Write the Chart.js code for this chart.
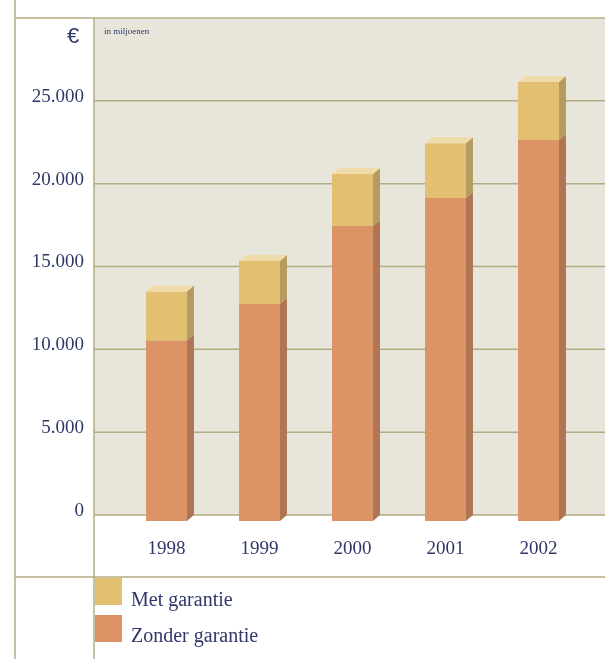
<!DOCTYPE html>
<html>
<head>
<meta charset="utf-8">
<script src="https://cdn.jsdelivr.net/npm/chart.js@4"></script>
<style>
body { margin: 0; background: #fff; }
#wrap { position: relative; width: 605px; height: 659px; }
.lbl { position: absolute; font-family: "Liberation Serif", serif; color: #2f3869; line-height: 1; white-space: nowrap; }
.box { position: absolute; width: 27px; height: 27px; }
</style>
</head>
<body>
<div id="wrap">
  <canvas id="myChart"></canvas>
  <span class="lbl" style="left:67px;top:25px;font-size:22px;font-family:'Liberation Sans',sans-serif">€</span>
  <span class="lbl" style="left:104px;top:27px;font-size:9px">in miljoenen</span>
  <div id="legend"></div>
</div>
<script>
var years = ["1998", "1999", "2000", "2001", "2002"];
var zonderGarantie = [10900, 13100, 17800, 19500, 23000];
var metGarantie = [2950, 2600, 3150, 3300, 3500];
var yTicks = [0, 5000, 10000, 15000, 20000, 25000];

var zonderColor = "#dc9366";
var metColor = "#e3bf72";
var sideColors = ["#b07552", "#b59b60"];
var topColor = "#f0dcab";
var lineColor = "#b5ab82";
var textColor = "#2f3869";
var depthX = 7, depthY = 6;

function fmt(v) {
  return String(v).replace(/\B(?=(\d{3})+(?!\d))/g, ".");
}

function hline(ctx, x1, x2, y) {
  ctx.beginPath(); ctx.moveTo(x1, y); ctx.lineTo(x2, y); ctx.stroke();
}
function vline(ctx, x, y1, y2) {
  ctx.beginPath(); ctx.moveTo(x, y1); ctx.lineTo(x, y2); ctx.stroke();
}
function poly(ctx, pts, color) {
  ctx.fillStyle = color;
  ctx.beginPath();
  ctx.moveTo(pts[0][0], pts[0][1]);
  for (var i = 1; i < pts.length; i++) ctx.lineTo(pts[i][0], pts[i][1]);
  ctx.closePath();
  ctx.fill();
}

var box3d = {
  id: "box3d",
  beforeDraw: function(chart) {
    var ctx = chart.ctx, y = chart.scales.y;
    var top = y.getPixelForValue(30000), zero = y.getPixelForValue(0);
    ctx.save();
    ctx.fillStyle = "#e8e5da";
    ctx.fillRect(94, top, 605 - 94, zero - top);
    ctx.strokeStyle = lineColor;
    ctx.lineWidth = 1.5;
    yTicks.forEach(function(v) {
      hline(ctx, 94, 605, y.getPixelForValue(v));
    });
    hline(ctx, 15, 605, top);
    hline(ctx, 15, 605, 577);
    vline(ctx, 15, 0, 659);
    vline(ctx, 94, top, 659);
    ctx.restore();
  },
  beforeDatasetsDraw: function(chart) {
    chart.ctx.save();
    chart.ctx.translate(-depthX, depthY);
  },
  afterDatasetsDraw: function(chart) {
    var ctx = chart.ctx;
    ctx.restore();
    ctx.save();
    var last = chart.data.datasets.length - 1;
    chart.data.datasets.forEach(function(ds, di) {
      chart.getDatasetMeta(di).data.forEach(function(bar) {
        var p = bar.getProps(["x", "y", "base", "width"], true);
        var r = p.x + p.width / 2, l = p.x - p.width / 2;
        poly(ctx, [[r - depthX, p.y + depthY], [r, p.y], [r, p.base], [r - depthX, p.base + depthY]], sideColors[di]);
        if (di === last) {
          poly(ctx, [[l - depthX, p.y + depthY], [l, p.y], [r, p.y], [r - depthX, p.y + depthY]], topColor);
        }
      });
    });
    ctx.restore();
  }
};

var chart = new Chart("myChart", {
  type: "bar",
  data: {
    labels: years,
    datasets: [{
      label: "Zonder garantie",
      data: zonderGarantie,
      backgroundColor: zonderColor,
      barPercentage: 0.44,
      categoryPercentage: 1,
      clip: false
    }, {
      label: "Met garantie",
      data: metGarantie,
      backgroundColor: metColor,
      barPercentage: 0.44,
      categoryPercentage: 1,
      clip: false
    }]
  },
  options: {
    responsive: true,
    maintainAspectRatio: false,
    animation: false,
    layout: { padding: { top: 18, right: 13, left: 0, bottom: 0 } },
    plugins: {
      legend: { display: false },
      tooltip: { enabled: false }
    },
    scales: {
      x: {
        stacked: true,
        offset: true,
        grid: { display: false, drawTicks: false },
        border: { display: false },
        ticks: {
          color: textColor,
          font: { family: "Liberation Serif", size: 19 },
          padding: 23,
          labelOffset: -depthX
        },
        afterFit: function(scale) { scale.height = 144; }
      },
      y: {
        stacked: true,
        min: 0,
        max: 30000,
        grid: { display: false, drawTicks: false },
        border: { display: false },
        ticks: {
          stepSize: 5000,
          color: textColor,
          font: { family: "Liberation Serif", size: 19 },
          padding: 43,
          labelOffset: -4,
          callback: function(v) { return v > 25000 ? null : fmt(v); }
        },
        afterFit: function(scale) {
          scale.width = 127;
          scale.paddingTop = 0;
          scale.paddingBottom = 0;
        }
      }
    }
  },
  plugins: [box3d]
});

// legend, Met garantie on top
var legend = document.getElementById("legend");
var items = chart.data.datasets.slice().reverse();
items.forEach(function(ds, i) {
  var b = document.createElement("div");
  b.className = "box";
  b.style.left = "95px";
  b.style.top = (578 + i * 37) + "px";
  b.style.background = ds.backgroundColor;
  legend.appendChild(b);
  var t = document.createElement("span");
  t.className = "lbl";
  t.style.left = "131px";
  t.style.top = (589 + i * 36) + "px";
  t.style.fontSize = "20px";
  t.textContent = ds.label;
  legend.appendChild(t);
});
</script>
</body>
</html>
